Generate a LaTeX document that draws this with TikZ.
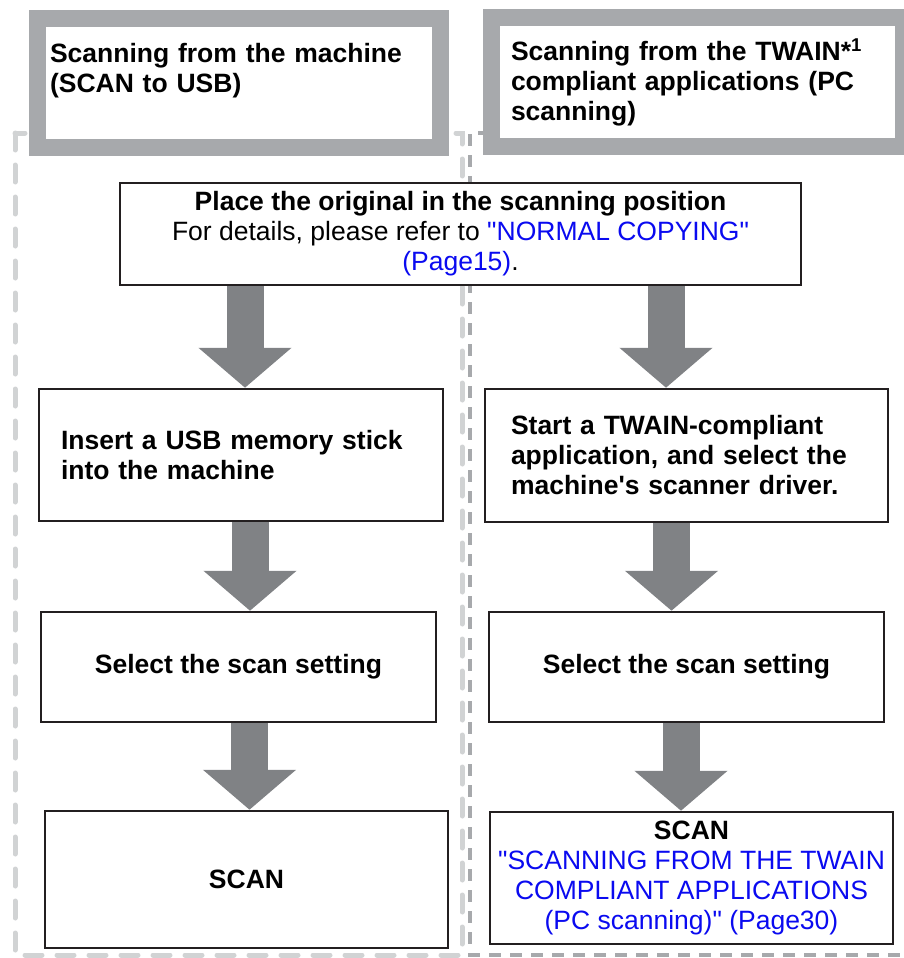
\documentclass[tikz,border=0pt]{standalone}
\usepackage{fontspec}
\setmainfont{Liberation Sans}
\usetikzlibrary{arrows.meta, backgrounds}
\definecolor{framegray}{HTML}{A7A9AC}
\definecolor{lightdash}{HTML}{D1D3D4}
\definecolor{arrowgray}{HTML}{808285}
\definecolor{boxline}{HTML}{231F20}
\definecolor{linkblue}{HTML}{0A0AF0}
\newcommand{\lnk}[1]{{\mdseries\color{linkblue}#1}}

\begin{document}
\begin{tikzpicture}[
    x=1pt, y=-1pt,
    every node/.style={font=\fontsize{26.5}{30}\selectfont\bfseries},
    hdbox/.style={draw=framegray, line width=17pt, fill=white, align=left,
                  minimum height=129pt, inner ysep=0pt},
    stepbox/.style={draw=boxline, line width=2.5pt, fill=white, align=center},
    bigarrow/.style={draw=arrowgray, line width=37pt,
                     -{Triangle[width=91pt, length=40pt]}},
  ]
  \useasboundingbox (0,0) rectangle (903,958);

  % column headers
  \node[hdbox, text width=377.5pt, inner xsep=12.5pt] (hleft) at (238.75,83)
    {Scanning from the machine\\(SCAN to USB)\\\mbox{}};
  \node[hdbox, text width=372.5pt, inner xsep=20pt] (hright) at (697.25,82)
    {Scanning from the TWAIN*\textsuperscript{1}\\compliant applications (PC\\scanning)};

  % common first step
  \node[stepbox, minimum width=681pt, minimum height=102pt] (place) at (460.5,234)
    {Place the original in the scanning position\\
     {\mdseries For details, please refer to
      \lnk{\textquotedbl NORMAL COPYING\textquotedbl}}\\
     {\mdseries\lnk{(Page15)}.}};

  % SCAN to USB
  \node[stepbox, align=left, text width=360pt, inner xsep=22pt,
        minimum height=132pt] (insert) at (241,455)
    {Insert a USB memory stick\\into the machine};
  \node[stepbox, minimum width=395pt, minimum height=110pt] (lsel) at (238.5,667)
    {Select the scan setting};
  \node[stepbox, minimum width=403pt, minimum height=137pt] (lscan) at (246.5,879.5)
    {SCAN};

  % PC scanning
  \node[stepbox, align=left, text width=351pt, inner xsep=26pt,
        minimum height=133pt] (start) at (686.5,455.5)
    {Start a TWAIN-compliant\\application, and select the\\
     machine\textquotesingle s scanner driver.};
  \node[stepbox, minimum width=395pt, minimum height=110pt] (rsel) at (686.5,667)
    {Select the scan setting};
  \node[stepbox, minimum width=403pt, minimum height=132pt] (rscan) at (691.5,878)
    {SCAN\\\lnk{\textquotedbl SCANNING FROM THE TWAIN}\\\lnk{COMPLIANT APPLICATIONS}\\
     \lnk{(PC scanning)\textquotedbl{} (Page30)}};

  \begin{scope}[on background layer]
    % dashed column frames
    \draw[lightdash, line width=5pt, line cap=round, dash pattern=on 17pt off 15pt]
      (15,133) rectangle (462,955);
    \draw[framegray, line width=4pt, dash pattern=on 12pt off 9pt]
      (910,133) -| (470,955) -- (910,955);

    \draw[bigarrow] (place.south -| 245,0) -- (insert.north -| 245,0);
    \draw[bigarrow] (insert.south -| 250,0) -- (lsel.north -| 250,0);
    \draw[bigarrow] (lsel.south -| 249.5,0) -- (lscan.north -| 249.5,0);
    \draw[bigarrow] (place.south -| 666,0) -- (start.north -| 666,0);
    \draw[bigarrow] (start.south -| 671.5,0) -- (rsel.north -| 671.5,0);
    \draw[bigarrow] (rsel.south -| 681,0) -- (rscan.north -| 681,0);
  \end{scope}
\end{tikzpicture}
\end{document}
